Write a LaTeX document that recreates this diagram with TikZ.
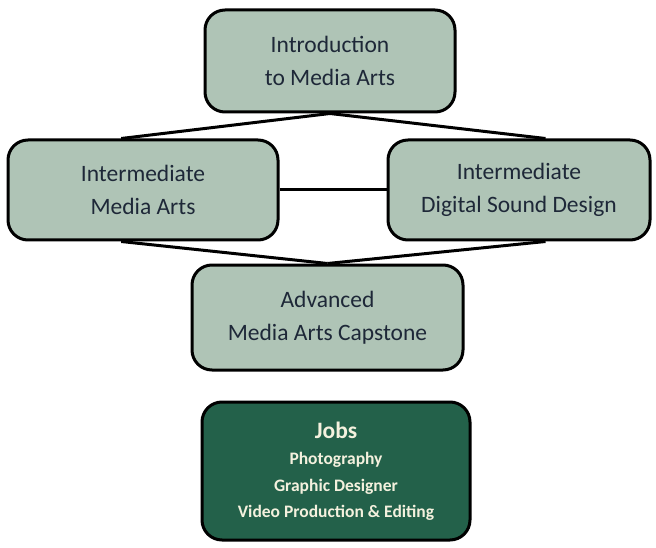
\documentclass[tikz,border=0pt]{standalone}
\usepackage{fontspec}
\setmainfont{Carlito}
\usetikzlibrary{calc,backgrounds}
\definecolor{sage}{HTML}{AFC4B6}
\definecolor{darktext}{HTML}{1E2838}
\definecolor{jobsgreen}{HTML}{23614A}
\definecolor{jobstext}{HTML}{F4F1DE}
\begin{document}
\begin{tikzpicture}[x=1pt,y=-1pt,
  course/.style={draw=black, line width=3pt, rounded corners=20pt, fill=sage,
    text=darktext, align=center, inner sep=0pt,
    font=\fontsize{23.5}{33}\selectfont},
  jobbox/.style={draw=black, line width=3pt, rounded corners=20pt, fill=jobsgreen,
    text=jobstext, align=center, inner sep=0pt,
    font=\bfseries\fontsize{17.5}{26.5}\selectfont},
  link/.style={line width=3pt, black}]
\useasboundingbox (0,0) rectangle (656,548);
\node[course, minimum width=250pt, minimum height=102pt] (intro) at (330,61)
  {Introduction\\to Media Arts};
\node[course, minimum width=270pt, minimum height=100pt] (imed) at (143,190)
  {Intermediate\\Media Arts};
\node[course, minimum width=262pt, minimum height=100pt] (isnd) at (519,190)
  {Intermediate\\Digital Sound Design};
\node[course, minimum width=271pt, minimum height=105pt] (adv) at (327.5,317.5)
  {Advanced\\Media Arts Capstone};
\node[jobbox, minimum width=268pt, minimum height=138pt] (jobs) at (336,471)
  {{\fontsize{23.5}{26.5}\selectfont Jobs}\\Photography\\Graphic Designer\\Video Production \& Editing};
\begin{scope}[on background layer]
\draw[link] (intro.south) -- ($(imed.north west)!0.42!(imed.north east)$);
\draw[link] (intro.south) -- ($(isnd.north west)!0.6!(isnd.north east)$);
\draw[link] (imed.east) -- (isnd.west);
\draw[link] ($(imed.south west)!0.42!(imed.south east)$) -- (adv.north);
\draw[link] ($(isnd.south west)!0.6!(isnd.south east)$) -- (adv.north);
\end{scope}
\end{tikzpicture}
\end{document}
